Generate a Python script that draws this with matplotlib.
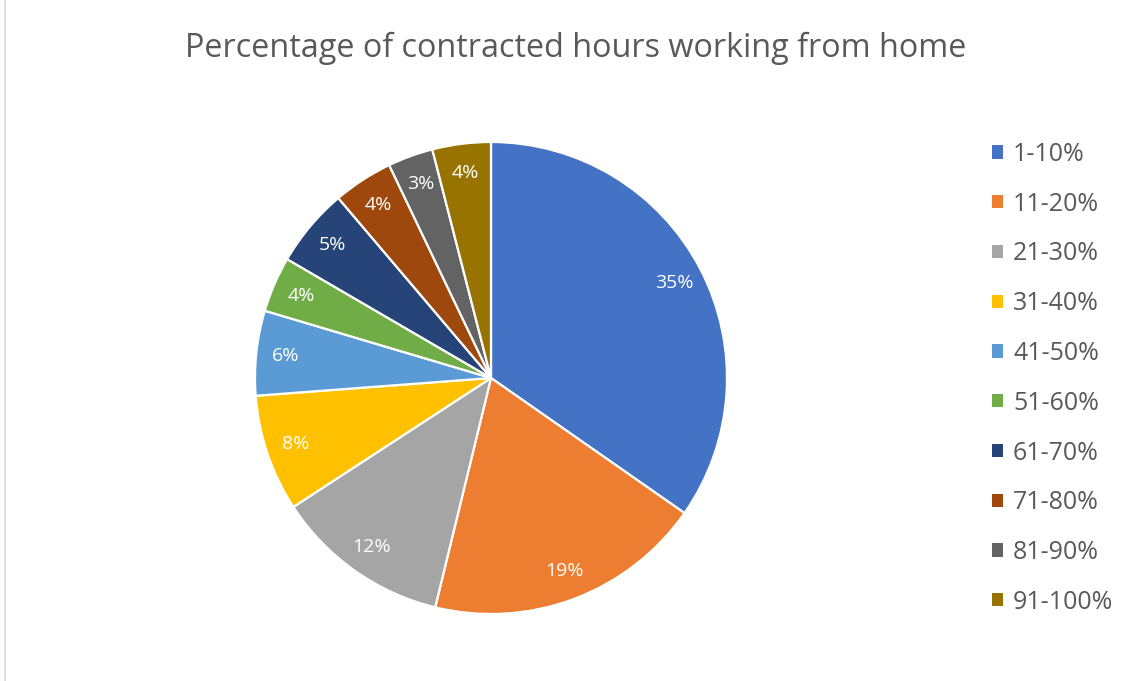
import matplotlib.pyplot as plt
from matplotlib.patches import Patch
from matplotlib.lines import Line2D

# Datos
categorias = ['1-10%', '11-20%', '21-30%', '31-40%', '41-50%',
              '51-60%', '61-70%', '71-80%', '81-90%', '91-100%']
porcentajes = [34.7, 19.1, 12.0, 8.0, 5.8, 3.8, 5.4, 4.1, 3.1, 4.0]
colores = ['#4472C4', '#ED7D31', '#A5A5A5', '#FFC000', '#5B9BD5',
           '#70AD47', '#264478', '#9E480E', '#636363', '#997300']

plt.rcParams['font.family'] = ['Open Sans', 'DejaVu Sans']

W, H = 1131, 681
fig = plt.figure(figsize=(W / 100, H / 100), dpi=100)

# Borde gris del area del grafico
fig.add_artist(Line2D([5 / W, 5 / W], [0, 1], color='#D9D9D9', lw=1.2))

# Torta centrada en (491, 378) px con radio 236 px
cx, cy, r = 491, 378, 236
ax = fig.add_axes([(cx - r) / W, (H - cy - r) / H, 2 * r / W, 2 * r / H])
wedges, textos, autotextos = ax.pie(
    porcentajes, colors=colores, startangle=90, counterclock=False,
    autopct='%1.0f%%', pctdistance=0.875,
    wedgeprops=dict(edgecolor='white', linewidth=1.6),
    textprops=dict(color='white', fontsize=14))
ax.set_xlim(-1, 1)
ax.set_ylim(-1, 1)
ax.set_aspect('equal')

fig.text(576 / W, 1 - 48 / H, 'Percentage of contracted hours working from home',
         ha='center', va='center', fontsize=23.3, color='#595959')

handles = [Patch(facecolor=c, edgecolor='none') for c in colores]
fig.legend(handles, categorias, loc='upper left',
           bbox_to_anchor=(992 / W, 1 - 142 / H), frameon=False,
           fontsize=18, labelcolor='#595959', handlelength=0.44,
           handleheight=0.44, handletextpad=0.4, labelspacing=0.99,
           borderaxespad=0, borderpad=0)

fig.savefig('out.png', dpi=100)
